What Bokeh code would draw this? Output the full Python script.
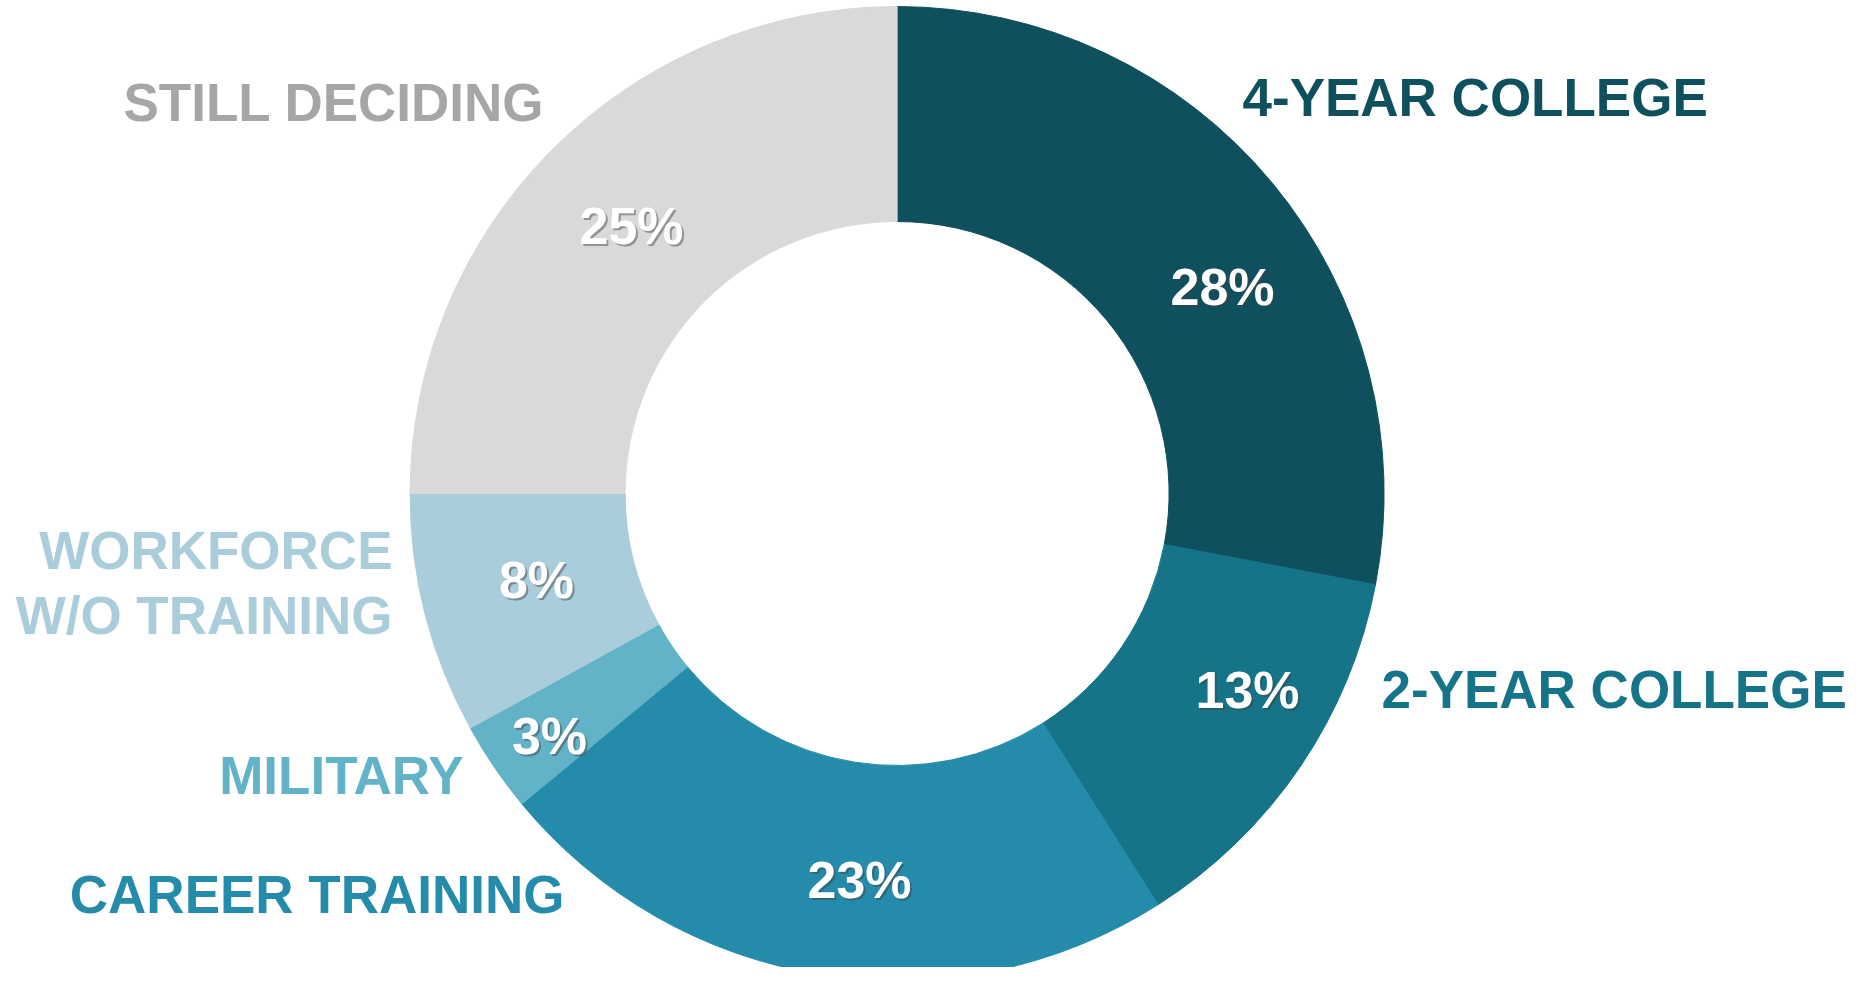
import math
from bokeh.plotting import figure
from bokeh.models import Range1d, ColumnDataSource
from bokeh.core.properties import value
from bokeh.embed import file_html
from bokeh.resources import INLINE

# ---- data ----
categories = ["4-YEAR COLLEGE", "2-YEAR COLLEGE", "CAREER TRAINING", "MILITARY",
              "WORKFORCE\nW/O TRAINING", "STILL DECIDING"]
shares = [28, 13, 23, 3, 8, 25]
pct_labels = ["28%", "13%", "23%", "3%", "8%", "25%"]
colors = ["#0F505E", "#157487", "#258BAA", "#62B3C8", "#A9CDDB", "#D9D9D9"]
label_colors = ["#0F505E", "#157487", "#258BAA", "#62B3C8", "#A9CDDB", "#A6A6A6"]

# ---- layout (screen pixel coordinates) ----
W, H = 1851, 967
PAGE_H = 983
cx, cy_page = 897.6, 494
R_OUT, R_IN = 487, 272

def Y(py):
    return PAGE_H - py

# percent label anchors (center x, text centre y)
pct_pos = [(1223, 287), (1248, 690), (860, 880), (550, 736), (537, 580), (632, 226)]
# category label anchors (x, text centre y, align)
cat_pos = [(1243, 97.5), (1382, 689.5), (565, 895),
           (464, 775.5), (393, 615.5), (545, 103)]
cat_align = ["left", "left", "right", "right", "right", "right"]

p = figure(width=W, height=H, output_backend="svg", toolbar_location=None,
           x_range=Range1d(1, 1 + W), y_range=Range1d(PAGE_H - 1 - H, PAGE_H - 1),
           min_border=0, outline_line_color=None, background_fill_color="white",
           border_fill_color="white")
p.axis.visible = False
p.grid.visible = False

total = sum(shares)
starts, ends = [], []
acc = 0
for s in shares:
    a0 = math.pi / 2 - 2 * math.pi * acc / total
    acc += s
    a1 = math.pi / 2 - 2 * math.pi * acc / total
    starts.append(a0)
    ends.append(a1)

src = ColumnDataSource(dict(start=starts, end=ends, color=colors))
p.annular_wedge(x=cx, y=Y(cy_page), inner_radius=R_IN, outer_radius=R_OUT,
                start_angle="start", end_angle="end", direction="clock",
                fill_color="color", line_color="color", line_width=1, source=src)

font = value("Liberation Sans")

# percent labels with shadow
px = [q[0] for q in pct_pos]
py = [Y(q[1]) for q in pct_pos]
p.text(x=[v + 2 for v in px], y=[v - 2 for v in py], text=pct_labels,
       text_font=font, text_font_style="bold", text_font_size="52px",
       text_color="#404040", text_alpha=0.45, text_align="center",
       text_baseline="alphabetic")
p.text(x=px, y=py, text=pct_labels,
       text_font=font, text_font_style="bold", text_font_size="52px",
       text_color="white", text_align="center", text_baseline="alphabetic")

# category labels
for name, col, (x, cy_t), al in zip(categories, label_colors, cat_pos, cat_align):
    lines = name.split("\n")
    n = len(lines)
    for i, ln in enumerate(lines):
        yc = cy_t - (n - 1 - i) * 64.5
        p.text(x=[x], y=[Y(yc)], text=[ln], text_font=font, text_font_style="bold",
               text_font_size="53px", text_color=col, text_align=al,
               text_baseline="alphabetic")

html = file_html(p, INLINE)
open("out.html", "w").write(html)
